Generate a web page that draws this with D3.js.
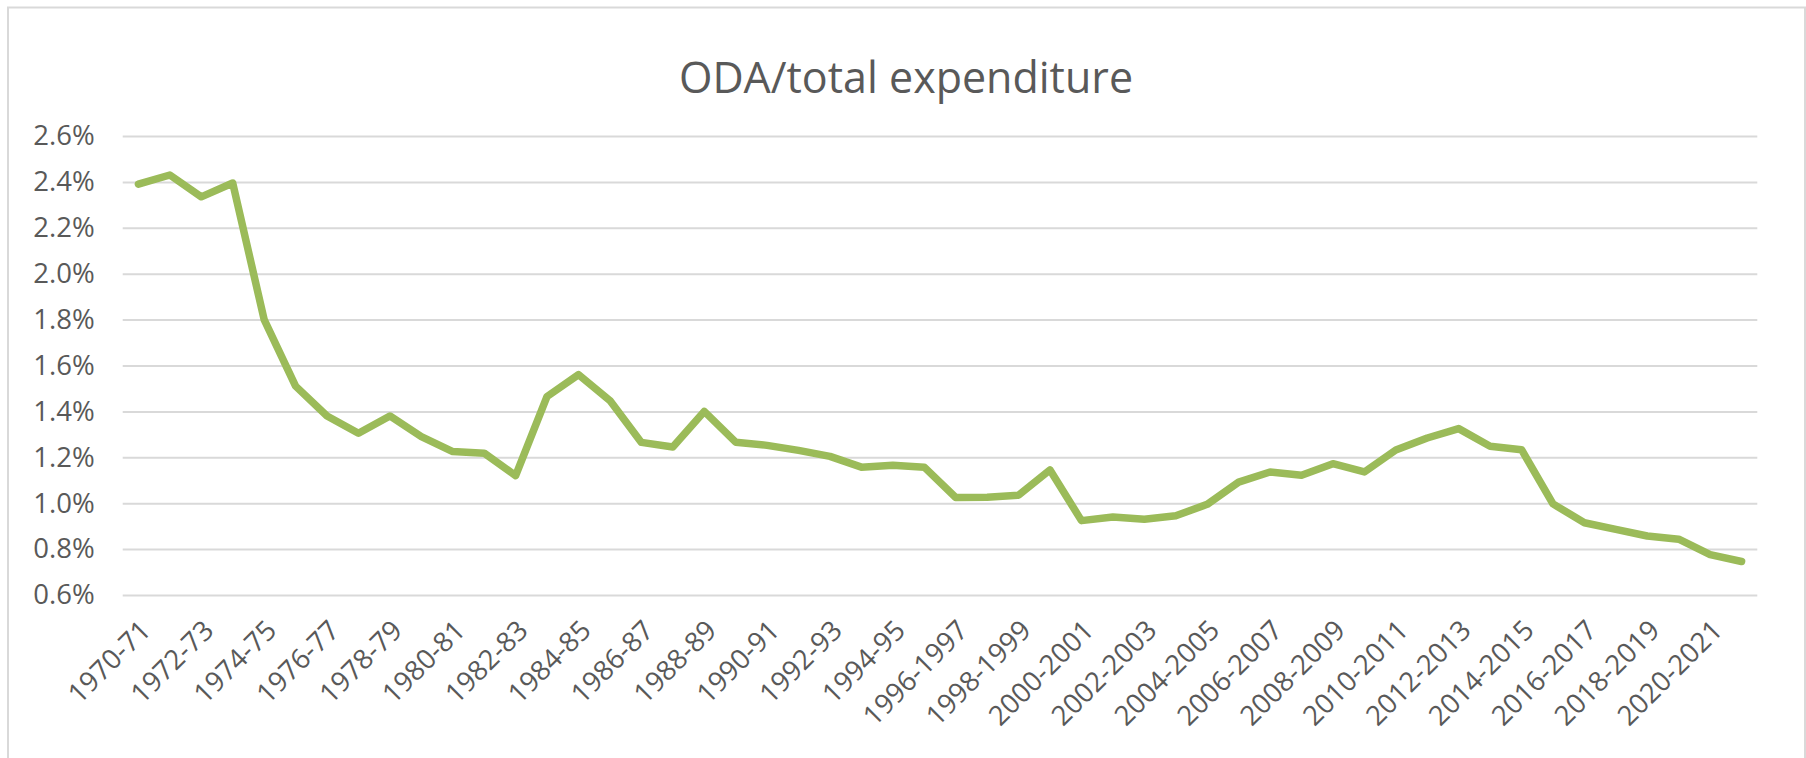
<!DOCTYPE html>
<html><head><meta charset="utf-8">
<script src="https://cdn.jsdelivr.net/npm/d3@7"></script>
<style>
html,body{margin:0;padding:0;background:#fff;}
svg{display:block;}
text{font-family:"Open Sans",sans-serif;fill:#595959;}
</style></head>
<body>
<svg id="chart" width="1806" height="758"></svg>
<script>
const categories = [
  "1970-71","1971-72","1972-73","1973-74","1974-75","1975-76","1976-77","1977-78",
  "1978-79","1979-80","1980-81","1981-82","1982-83","1983-84","1984-85","1985-86",
  "1986-87","1987-88","1988-89","1989-90","1990-91","1991-92","1992-93","1993-94",
  "1994-95","1995-96","1996-1997","1997-1998","1998-1999","1999-2000","2000-2001","2001-2002",
  "2002-2003","2003-2004","2004-2005","2005-2006","2006-2007","2007-2008","2008-2009","2009-2010",
  "2010-2011","2011-2012","2012-2013","2013-2014","2014-2015","2015-2016","2016-2017","2017-2018",
  "2018-2019","2019-2020","2020-2021","2021-2022"
];
const odaShare = [
  2.39, 2.43, 2.335, 2.395, 1.80, 1.51, 1.38, 1.305,
  1.38, 1.29, 1.225, 1.218, 1.12, 1.465, 1.56, 1.447,
  1.265, 1.245, 1.40, 1.266, 1.252, 1.230, 1.204, 1.157,
  1.165, 1.157, 1.025, 1.026, 1.035, 1.145, 0.924, 0.940,
  0.930, 0.945, 0.995, 1.092, 1.136, 1.122, 1.172, 1.136,
  1.232, 1.284, 1.325, 1.248, 1.233, 0.997, 0.915, 0.886,
  0.857, 0.843, 0.776, 0.746
];
const yTicks = [0.6, 0.8, 1.0, 1.2, 1.4, 1.6, 1.8, 2.0, 2.2, 2.4, 2.6];
const chartTitle = "ODA/total expenditure";

const svg = d3.select("#chart");
const plot = {left: 122.7, right: 1757.3, top: 136, bottom: 595};

// chart frame
svg.append("rect")
  .attr("x", 8).attr("y", 7.5).attr("width", 1797).attr("height", 760)
  .attr("fill", "#fff").attr("stroke", "#d9d9d9").attr("stroke-width", 2);

const x = d3.scaleBand().domain(categories).range([plot.left, plot.right]).padding(0);
const y = d3.scaleLinear().domain([0.6, 2.6]).range([plot.bottom, plot.top]);

// gridlines + y labels
const yAxis = d3.axisLeft(y).tickValues(yTicks)
  .tickSize(-(plot.right - plot.left)).tickPadding(28)
  .tickFormat(d => d.toFixed(1) + "%");
const gy = svg.append("g").attr("transform", `translate(${plot.left},0)`).call(yAxis);
gy.select(".domain").remove();
gy.selectAll(".tick line").attr("stroke", "#d9d9d9").attr("stroke-width", 2);
gy.selectAll(".tick text").attr("font-size", 27.5).attr("fill", "#595959")
  .style("font-family", '"Open Sans",sans-serif');

// x labels
const xAxis = d3.axisBottom(x).tickSize(0)
  .tickValues(categories.filter((c, i) => i % 2 === 0));
const gx = svg.append("g").attr("transform", `translate(0,${plot.bottom})`).call(xAxis);
gx.select(".domain").remove();
gx.selectAll(".tick text")
  .attr("font-size", 27.5).attr("fill", "#595959")
  .style("font-family", '"Open Sans",sans-serif')
  .attr("text-anchor", "end")
  .attr("dy", null).attr("y", null)
  .attr("transform", "translate(14,37) rotate(-45)");

// line
const line = d3.line()
  .x((d, i) => x(categories[i]) + x.bandwidth() / 2)
  .y(d => y(d));
svg.append("path").datum(odaShare)
  .attr("d", line).attr("fill", "none")
  .attr("stroke", "#9bbb59").attr("stroke-width", 7.5)
  .attr("stroke-linejoin", "round").attr("stroke-linecap", "round");

// title
svg.append("text").attr("x", 906).attr("y", 93)
  .attr("text-anchor", "middle").attr("font-size", 43)
  .text(chartTitle);
</script>
</body></html>
